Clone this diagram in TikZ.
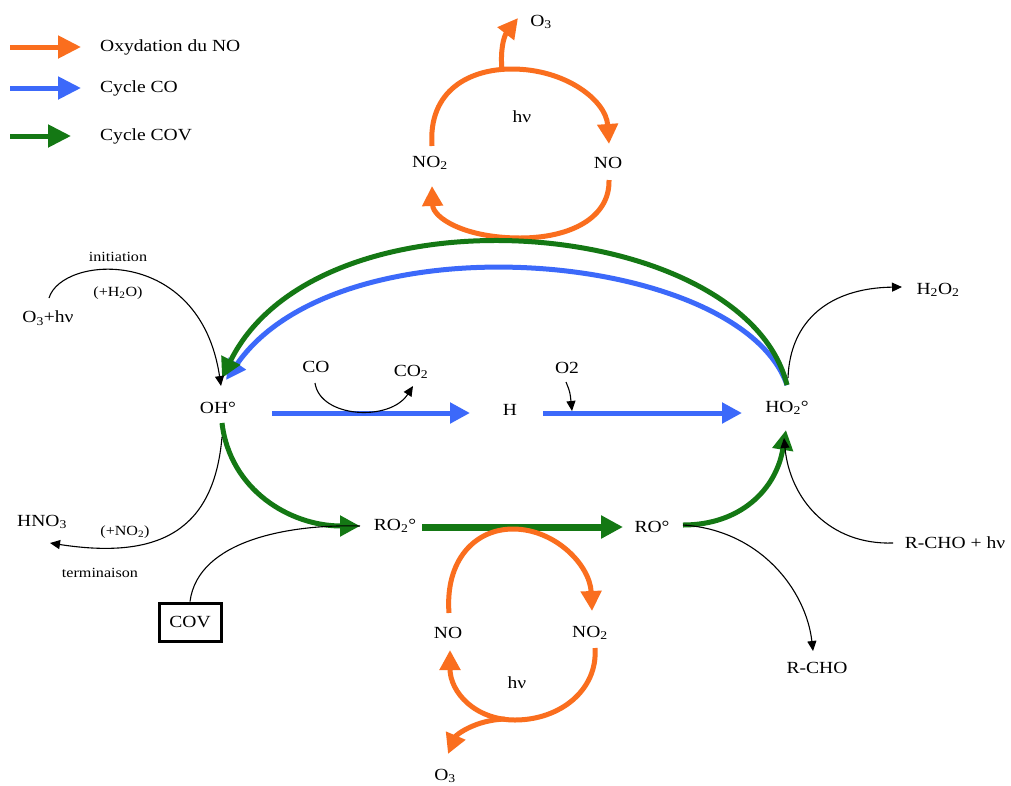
\documentclass[tikz,border=0pt]{standalone}
\usepackage{fontspec}
\setmainfont[FakeStretch=1.15]{Liberation Serif}
\usetikzlibrary{arrows.meta}
\definecolor{cor}{RGB}{250,110,30}
\definecolor{cbl}{RGB}{60,105,250}
\definecolor{cgr}{RGB}{20,120,20}
\begin{document}
\begin{tikzpicture}[x=1pt,y=-1pt,
  lbl/.style={font=\fontsize{17}{19}\selectfont, inner sep=1pt},
  sml/.style={font=\fontsize{14}{16}\selectfont, inner sep=1pt},
  oarr/.style={draw=cor, line width=5pt, -{Triangle[length=20pt,width=20pt]}},
  barr/.style={draw=cbl, line width=5pt, -{Triangle[length=20pt,width=20pt]}},
  garr/.style={draw=cgr, line width=5pt, -{Triangle[length=20pt,width=20pt]}},
  legarr/.style={line width=5pt, -{Triangle[length=23pt,width=22pt]}},
  karr/.style={draw=black, line width=1.1pt, -{Triangle[length=10pt,width=9pt]}},
  kline/.style={draw=black, line width=1.1pt}]
\fill[white] (0,0) rectangle (1011,785);
\useasboundingbox (0,0) rectangle (1011,785);

% legend
\node[lbl, anchor=west] (L1) at (99,47) {Oxydation du NO};
\node[lbl, anchor=west] (L2) at (99,88) {Cycle CO};
\node[lbl, anchor=west] (L3) at (99,136) {Cycle COV};
\coordinate (L1s) at (10,47); \coordinate (L1e) at (81,47);
\coordinate (L2s) at (10,88); \coordinate (L2e) at (81,88);
\coordinate (L3s) at (10,136); \coordinate (L3e) at (71,136);
\draw[legarr, cor] (L1s) -- (L1e);
\draw[legarr, cbl] (L2s) -- (L2e);
\draw[legarr, cgr] (L3s) -- (L3e);

% top NO cycle
\node[lbl] (NO2t) at (430,163) {NO\textsubscript{2}};
\node[lbl] (NOt) at (608,163) {NO};
\node[lbl] (hv1) at (522,117) {hν};
\node[lbl] (O3t) at (541,22) {O\textsubscript{3}};
\coordinate (t1) at (432,146);
\coordinate (t2) at (609,144);
\coordinate (t3) at (609,180);
\coordinate (t4) at (432,186);
\coordinate (ttop) at (502,70);
\coordinate (O3tin) at (518,18);
\draw[oarr] (t1) .. controls (428,90) and (470,69) .. (512,69)
                 .. controls (565,69) and (606,100) .. (t2);
\draw[oarr] (t3) .. controls (610,218) and (570,238) .. (520,238)
                 .. controls (465,238) and (433,218) .. (t4);
\draw[oarr] (ttop) .. controls (500,50) and (504,36) .. (O3tin);

% main nodes
\node[lbl] (OH) at (218,408) {OH°};
\node[lbl] (H) at (510,410) {H};
\node[lbl] (HO2) at (787,408) {HO\textsubscript{2}°};
\node[lbl] (CO) at (316,367) {CO};
\node[lbl] (CO2) at (411,372) {CO\textsubscript{2}};
\node[lbl] (O2) at (567,368) {O2};
\node[lbl] (O3hv) at (48,318) {O\textsubscript{3}+hν};
\node[sml] (init) at (118,257) {initiation};
\node[sml] (h2o) at (118,293) {(+H\textsubscript{2}O)};
\node[lbl] (H2O2) at (938,290) {H\textsubscript{2}O\textsubscript{2}};
\node[lbl] (RO2) at (395,526) {RO\textsubscript{2}°};
\node[lbl] (RO) at (652,527) {RO°};
\node[lbl] (HNO3) at (42,522) {HNO\textsubscript{3}};
\node[sml] (pno2) at (125,532) {(+NO\textsubscript{2})};
\node[sml] (term) at (100,573) {terminaison};
\node[lbl, draw, line width=3pt, minimum width=62pt, minimum height=38pt] (COV) at (190,622) {COV};
\node[lbl] (RCHOhv) at (955,543) {R-CHO + hν};
\node[lbl] (RCHO) at (817,668) {R-CHO};

% anchor coordinates
\coordinate (OHtop) at (222,378);
\coordinate (OHtopk) at (221,386);
\coordinate (OHbot) at (222,423);
\coordinate (OHbotk) at (222,437);
\coordinate (HO2top) at (787,385);
\coordinate (HO2bot) at (786,430);
\coordinate (HO2botk) at (784,438);
\coordinate (RO2in) at (360,526);
\coordinate (RO2out) at (422,527);
\coordinate (ROin) at (623,527);
\coordinate (ROout) at (683,525);
\coordinate (RCHOhvin) at (893,543);

% blue cycle CO
\draw[barr] (272,413) -- (470,413);
\draw[barr] (543,413) -- (742,413);
\draw[barr] (HO2top) .. controls (740,250) and (340,215) .. (226,380);
% green big arc
\draw[garr] (HO2top) .. controls (745,215) and (320,180) .. (OHtop);
% initiation
\draw[karr] (49,298) .. controls (62,255) and (200,245) .. (OHtopk);
% CO -> CO2
\draw[karr] (315,383) .. controls (320,418) and (390,422) .. (413,386);
% O2
\draw[karr] (566,382) .. controls (570,392) .. (572,411);
% H2O2
\draw[karr] (788,378) .. controls (790,320) and (830,288) .. (902,287);

% green lower
\draw[garr] (OHbot) .. controls (230,490) and (290,526) .. (RO2in);
\draw[kline] (COV.north) .. controls (198,540) and (290,524) .. (RO2in);
\draw[karr] (OHbotk) .. controls (214,530) and (160,560) .. (50,543);
\draw[draw=cgr, line width=7pt, -{Triangle[length=22pt,width=22pt]}] (RO2out) -- (ROin);

% bottom NO cycle
\node[lbl] (NOb) at (448,633) {NO};
\node[lbl] (NO2b) at (590,633) {NO\textsubscript{2}};
\node[lbl] (hv2) at (517,683) {hν};
\node[lbl] (O3b) at (445,776) {O\textsubscript{3}};
\coordinate (b1) at (449,613);
\coordinate (b2) at (592,611);
\coordinate (b3) at (595,648);
\coordinate (b4) at (450,650);
\coordinate (bbot) at (505,719);
\draw[oarr] (b1) .. controls (445,560) and (475,529) .. (513,529)
                 .. controls (555,529) and (590,565) .. (b2);
\draw[oarr] (b3) .. controls (598,690) and (560,720) .. (515,720)
                 .. controls (475,720) and (450,692) .. (b4);
\draw[oarr] (bbot) .. controls (475,720) and (456,735) .. (448,754);

% right side
\draw[garr] (ROout) .. controls (740,525) and (776,490) .. (HO2bot);
\draw[karr] (ROout) .. controls (760,530) and (806,590) .. (813,651);
\draw[karr] (RCHOhvin) .. controls (830,545) and (790,500) .. (HO2botk);
\end{tikzpicture}
\end{document}
